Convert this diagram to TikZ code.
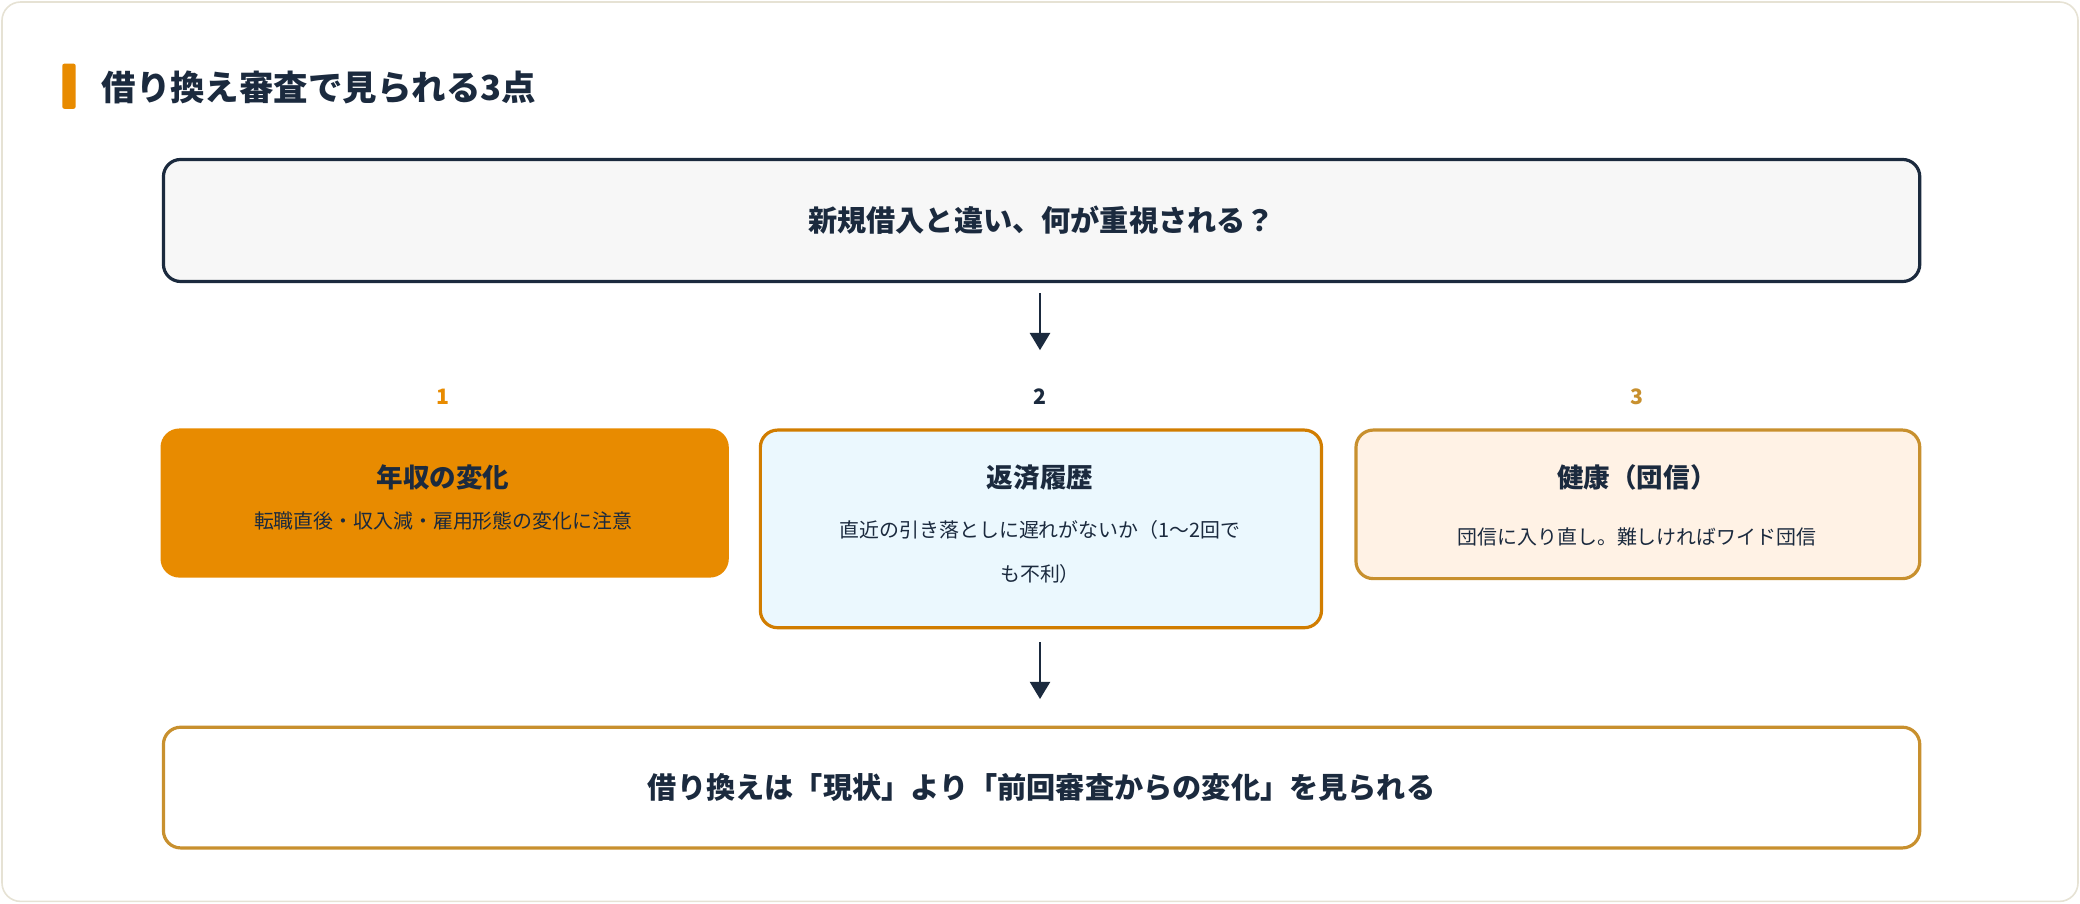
\documentclass[tikz,border=0pt]{standalone}
\usepackage{fontspec}
\setmainfont{Noto Sans CJK JP}
\usetikzlibrary{arrows.meta}
\definecolor{navy}{HTML}{1B2A3E}
\definecolor{orng}{HTML}{E88B00}
\definecolor{gold}{HTML}{C8902E}
\definecolor{frame}{HTML}{E6E2D4}
\begin{document}
\begin{tikzpicture}[x=1pt,y=-1pt,
    box/.style={draw, line width=2.4pt, rounded corners=13pt, anchor=north west, inner sep=0pt},
    ttl/.style={font=\bfseries\fontsize{20}{24}\selectfont, text=navy},
    sub/.style={font=\fontsize{15}{33}\selectfont, text=navy, align=center},
    num/.style={font=\bfseries\fontsize{16}{19}\selectfont},
    arr/.style={draw=navy, line width=2.2pt, -{Triangle[length=13pt,width=15pt]}}]
    \useasboundingbox (0,0) rectangle (1568,681);
    \draw[frame, fill=white, line width=1.2pt, rounded corners=14pt] (1.5,1.5) rectangle (1566.5,679.5);
    \fill[orng, rounded corners=1.5pt] (47,48) rectangle (57,82);
    \node[anchor=west, text=navy, font=\bfseries\fontsize{26}{30}\selectfont] (title) at (73,66) {借り換え審査で見られる3点};

    \node[box, draw=navy, fill=black!3!white, minimum width=1324pt, minimum height=92pt] (q) at (122,119) {};
    \node[text=navy, font=\bfseries\fontsize{22}{26}\selectfont] (qt) at (q.center) {新規借入と違い、何が重視される？};

    \node[num, text=orng] (n1) at (334,299) {1};
    \node[num, text=navy] (n2) at (784,299) {2};
    \node[num, text=gold] (n3) at (1234,299) {3};

    \node[box, draw=orng, fill=orng, minimum width=426pt, minimum height=110pt] (b1) at (121,323) {};
    \node[box, draw=orng!90!black, fill=cyan!8!white, minimum width=423pt, minimum height=149pt] (b2) at (572,323) {};
    \node[box, draw=gold, fill=orange!10!white, minimum width=425pt, minimum height=112pt] (b3) at (1021,323) {};
    \node[ttl] (t1) at (334,360) {年収の変化};
    \node[sub] (s1) at (334,393) {転職直後・収入減・雇用形態の変化に注意};
    \node[ttl] (t2) at (784,360) {返済履歴};
    \node[sub, anchor=north] (s2) at (784,389) {直近の引き落としに遅れがないか（1〜2回で\\も不利）};
    \node[ttl] (t3) at (1234,360) {健康（団信）};
    \node[sub] (s3) at (1234,405) {団信に入り直し。難しければワイド団信};

    \node[box, draw=gold, fill=white, minimum width=1324pt, minimum height=91pt] (c) at (122,547) {};
    \node[text=navy, font=\bfseries\fontsize{22}{26}\selectfont] (ct) at (c.center) {借り換えは「現状」より「前回審査からの変化」を見られる};

    \coordinate (a1) at (784,221);
    \coordinate (a2) at (784,264);
    \coordinate (a3) at (784,484);
    \coordinate (a4) at (784,527);
    \path[arr] (a1) -- (a2);
    \path[arr] (a3) -- (a4);
\end{tikzpicture}
\end{document}
